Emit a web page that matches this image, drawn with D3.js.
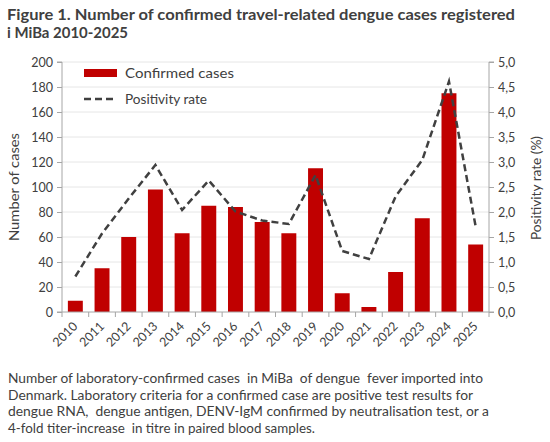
<!DOCTYPE html>
<html>
<head>
<meta charset="utf-8">
<script src="https://cdn.jsdelivr.net/npm/d3@7"></script>
<style>
  body { margin: 0; background: #fff; }
  text { font-family: "Lato", "DejaVu Sans", sans-serif; fill: #404040; }
</style>
</head>
<body>
<div class="canvas"></div>
<script>
// data
const years = ['2010','2011','2012','2013','2014','2015','2016','2017',
               '2018','2019','2020','2021','2022','2023','2024','2025'];
const cases = [9, 35, 60, 98, 63, 85, 84, 72, 63, 115, 15, 4, 32, 75, 175, 54];
const positivity = [0.71, 1.57, 2.27, 2.94, 2.04, 2.63, 2.01, 1.83,
                    1.76, 2.74, 1.22, 1.06, 2.31, 3.04, 4.61, 1.71];
const leftTicks = [0, 20, 40, 60, 80, 100, 120, 140, 160, 180, 200];
const rightTicks = [0, 0.5, 1, 1.5, 2, 2.5, 3, 3.5, 4, 4.5, 5];
const footnote = [
  'Number of laboratory-confirmed cases  in MiBa  of dengue  fever imported into',
  'Denmark. Laboratory criteria for a confirmed case are positive test results for',
  'dengue RNA,  dengue antigen, DENV-IgM confirmed by neutralisation test, or a',
  '4-fold titer-increase  in titre in paired blood samples.'
];
const footnoteWidths = [475, 465, 481, 307];

const width = 550, height = 442;
const margin = {top: 62, right: 61, bottom: 130, left: 62};
const graphWidth = width - margin.left - margin.right;
const graphHeight = height - margin.top - margin.bottom;

const svg = d3.select('.canvas')
  .append('svg')
    .attr('width', width)
    .attr('height', height);

// title
svg.append('text')
  .attr('x', 7).attr('y', 20)
  .attr('font-size', 16).attr('font-weight', 'bold')
  .attr('textLength', 508).attr('lengthAdjust', 'spacingAndGlyphs')
  .text('Figure 1. Number of confirmed travel-related dengue cases registered');
svg.append('text')
  .attr('x', 7).attr('y', 38)
  .attr('font-size', 16).attr('font-weight', 'bold')
  .attr('textLength', 121).attr('lengthAdjust', 'spacingAndGlyphs')
  .text('i MiBa 2010-2025');

const graph = svg.append('g')
  .attr('transform', `translate(${margin.left}, ${margin.top})`);

const x = d3.scaleBand()
  .domain(years)
  .range([0, graphWidth])
  .paddingInner(0.44)
  .paddingOuter(0.22);

const y = d3.scaleLinear().domain([0, 200]).range([graphHeight, 0]);
const y2 = d3.scaleLinear().domain([0, 5]).range([graphHeight, 0]);

// gridlines
graph.selectAll('line.grid')
  .data(leftTicks.slice(1))
  .enter().append('line')
    .attr('class', 'grid')
    .attr('x1', 0).attr('x2', graphWidth)
    .attr('y1', d => y(d)).attr('y2', d => y(d))
    .attr('stroke', '#e6e6e6').attr('stroke-width', 1);

// bars
graph.selectAll('rect.bar')
  .data(cases)
  .enter().append('rect')
    .attr('class', 'bar')
    .attr('x', (d, i) => x(years[i]))
    .attr('y', d => y(d))
    .attr('width', x.bandwidth())
    .attr('height', d => graphHeight - y(d))
    .attr('fill', '#c00000');

// positivity line
const line = d3.line()
  .x((d, i) => x(years[i]) + x.bandwidth() / 2)
  .y(d => y2(d));

graph.append('path')
  .datum(positivity)
  .attr('d', line)
  .attr('fill', 'none')
  .attr('stroke', '#404040')
  .attr('stroke-width', 2.5)
  .attr('stroke-dasharray', '7,4');

// axes
const yAxis = d3.axisLeft(y).tickValues(leftTicks).tickSize(5).tickPadding(4);
const yAxis2 = d3.axisRight(y2).tickValues(rightTicks).tickSize(5).tickPadding(4)
  .tickFormat(d => d3.format('.1f')(d).replace('.', ','));

const yAxisGroup = graph.append('g').call(yAxis);
const yAxisGroup2 = graph.append('g')
  .attr('transform', `translate(${graphWidth}, 0)`)
  .call(yAxis2);

// x axis with ticks between categories
const step = x.step();
const xAxisGroup = graph.append('g')
  .attr('transform', `translate(0, ${graphHeight})`);
xAxisGroup.append('line')
  .attr('x1', 0).attr('x2', graphWidth)
  .attr('stroke', '#a6a6a6');
xAxisGroup.selectAll('line.tick')
  .data(d3.range(years.length + 1))
  .enter().append('line')
    .attr('class', 'tick')
    .attr('x1', i => i * step)
    .attr('x2', i => i * step)
    .attr('y1', 0).attr('y2', 5)
    .attr('stroke', '#a6a6a6');
xAxisGroup.selectAll('text.year')
  .data(years)
  .enter().append('text')
    .attr('class', 'year')
    .attr('transform', d => `translate(${x(d) + x.bandwidth() / 2 + 3}, 15) rotate(-45)`)
    .attr('text-anchor', 'end')
    .attr('font-size', 12.5)
    .text(d => d);

[yAxisGroup, yAxisGroup2].forEach(g => {
  g.select('.domain').attr('stroke', '#a6a6a6');
  g.selectAll('.tick line').attr('stroke', '#a6a6a6');
  g.selectAll('.tick text')
    .attr('font-size', 12.5)
    .attr('font-family', '"Lato", "DejaVu Sans", sans-serif')
    .attr('fill', '#404040');
});
yAxisGroup.select('.domain').attr('d', `M-5,${graphHeight}H0V0H-5`);
yAxisGroup2.select('.domain').attr('d', `M5,${graphHeight}H0V0H5`);

// axis titles
svg.append('text')
  .attr('transform', `translate(19, ${margin.top + 125}) rotate(-90)`)
  .attr('text-anchor', 'middle')
  .attr('font-size', 13.5)
  .attr('textLength', 108).attr('lengthAdjust', 'spacingAndGlyphs')
  .text('Number of cases');
svg.append('text')
  .attr('transform', `translate(541, ${margin.top + 126}) rotate(-90)`)
  .attr('text-anchor', 'middle')
  .attr('font-size', 13.5)
  .attr('textLength', 104).attr('lengthAdjust', 'spacingAndGlyphs')
  .text('Positivity rate (%)');

// legend
const legend = graph.append('g').attr('transform', 'translate(22, 0)');
legend.append('rect')
  .attr('x', 0).attr('y', 7).attr('width', 33).attr('height', 8)
  .attr('fill', '#c00000');
legend.append('text')
  .attr('x', 41).attr('y', 15.5).attr('font-size', 13.5)
  .attr('textLength', 109).attr('lengthAdjust', 'spacingAndGlyphs')
  .text('Confirmed cases');
legend.append('line')
  .attr('x1', 0).attr('x2', 33).attr('y1', 37).attr('y2', 37)
  .attr('stroke', '#404040').attr('stroke-width', 2.5)
  .attr('stroke-dasharray', '7,4');
legend.append('text')
  .attr('x', 41).attr('y', 41.5).attr('font-size', 13.5)
  .attr('textLength', 82).attr('lengthAdjust', 'spacingAndGlyphs')
  .text('Positivity rate');

// footnote
svg.selectAll('text.note')
  .data(footnote)
  .enter().append('text')
    .attr('class', 'note')
    .attr('x', 8)
    .attr('y', (d, i) => 383 + i * 16.5)
    .attr('font-size', 13.5)
    .attr('textLength', (d, i) => footnoteWidths[i])
    .attr('lengthAdjust', 'spacingAndGlyphs')
    .style('white-space', 'pre')
    .text(d => d);
</script>
</body>
</html>
